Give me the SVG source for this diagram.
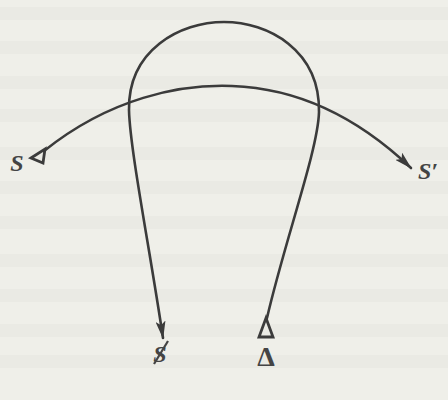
<svg xmlns="http://www.w3.org/2000/svg" width="448" height="400" viewBox="0 0 448 400">
<style>
.ln{fill:none;stroke:#3b3b3b;stroke-width:2.6;stroke-linecap:round}
.tri{fill:none;stroke:#3b3b3b;stroke-width:2.8;stroke-linejoin:miter}
.lbl{font-family:"Liberation Serif","DejaVu Serif",serif;font-weight:bold;font-style:italic;font-size:24px;fill:#444;text-anchor:middle}
.band{fill:#9a9a90;opacity:0.05}
</style>
<defs>
<marker id="ah" viewBox="0 0 18 10" refX="17" refY="5" markerWidth="18" markerHeight="10" markerUnits="userSpaceOnUse" orient="auto">
<path d="M0,0 L18,5 L0,10 L4,5 Z" fill="#3b3b3b"/>
</marker>
</defs>
<rect width="448" height="400" fill="#efefe9"/>
<g id="background">
<rect class="band" x="0" y="7" width="448" height="13"/>
<rect class="band" x="0" y="41" width="448" height="13"/>
<rect class="band" x="0" y="76" width="448" height="13"/>
<rect class="band" x="0" y="109" width="448" height="13"/>
<rect class="band" x="0" y="147" width="448" height="13"/>
<rect class="band" x="0" y="181" width="448" height="13"/>
<rect class="band" x="0" y="216" width="448" height="13"/>
<rect class="band" x="0" y="254" width="448" height="13"/>
<rect class="band" x="0" y="289" width="448" height="13"/>
<rect class="band" x="0" y="324" width="448" height="13"/>
<rect class="band" x="0" y="355" width="448" height="13"/>
</g>
<g id="connectors">
<path id="c-s-s2" class="ln" marker-end="url(#ah)" d="M44,151 C110,98 180,84 232,86 C290,88 350,110 411,168"/>
<path id="c-delta-sbar" class="ln" marker-end="url(#ah)" d="M267,318 C285,240 318,150 319,112 C320,50 268,22 224,22 C180,22 128,50 129,110 C130,150 150,250 163,338"/>
</g>
<g id="node-S">
<polygon class="tri" points="31,158 45,149 43,163"/>
<text class="lbl" x="17" y="171">S</text>
</g>
<g id="node-S-prime">
<text class="lbl" x="428" y="179">S′</text>
</g>
<g id="node-barred-S">
<text class="lbl" x="160" y="362">S</text>
<path d="M154,364 L168,341" stroke="#444" stroke-width="2.2" fill="none"/>
</g>
<g id="node-delta">
<polygon class="tri" points="266,318 273,337 259,337"/>
<text class="lbl" x="266" y="366" style="font-style:normal;font-size:28px">Δ</text>
</g>
</svg>
